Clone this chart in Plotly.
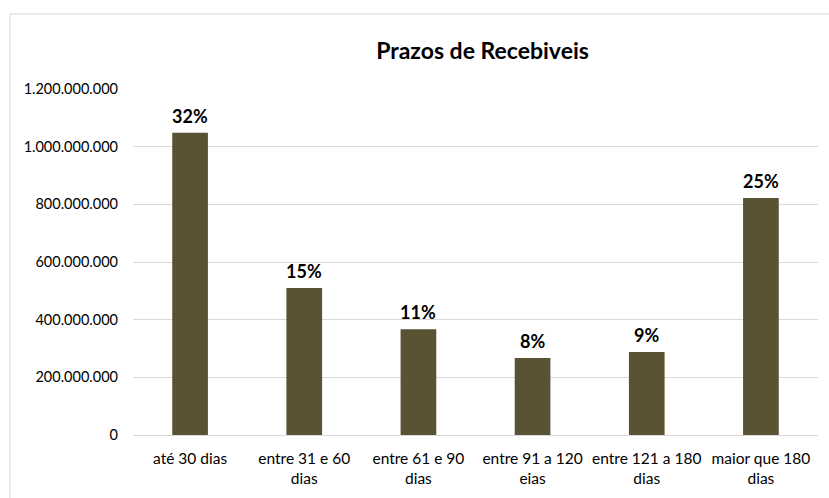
import plotly.graph_objects as go

# Receivables by maturity bucket
categorias = [
    "até 30 dias",
    "entre 31 e 60<br>dias",
    "entre 61 e 90<br>dias",
    "entre 91 a 120<br>eias",
    "entre 121 a 180<br>dias",
    "maior que 180<br>dias",
]
valores = [1048000000, 510000000, 367000000, 267000000, 288000000, 822000000]
ticks_y = [0, 200000000, 400000000, 600000000, 800000000, 1000000000, 1200000000]

total = sum(valores)
percentuais = [f"{round(v / total * 100):.0f}%" for v in valores]

COR_BARRA = "#595334"
COR_GRADE = "#d9d9d9"
FONTE = "Lato, 'Open Sans', sans-serif"

fig = go.Figure(
    go.Bar(
        x=categorias,
        y=valores,
        marker=dict(color=COR_BARRA, line=dict(width=0)),
        hoverinfo="skip",
    )
)

# Share-of-total labels above each bar
for cat, val, pct in zip(categorias, valores, percentuais):
    fig.add_annotation(
        x=cat, y=val, text=f"<b>{pct}</b>", showarrow=False,
        yanchor="bottom", yshift=4,
        font=dict(family=FONTE, size=18, color="#000000"),
    )

# Chart frame
fig.add_shape(
    type="rect", xref="paper", yref="paper",
    x0=-0.1796, x1=1.2, y0=-0.4, y1=1.217,
    line=dict(color=COR_GRADE, width=1), fillcolor="rgba(0,0,0,0)", layer="below",
)

fig.update_layout(
    width=829, height=498,
    margin=dict(l=133, r=11, t=89, b=63),
    paper_bgcolor="white", plot_bgcolor="white",
    separators=",.",
    bargap=0.6875,
    showlegend=False,
    font=dict(family=FONTE, color="#000000"),
    title=dict(
        text="<b>Prazos de Recebiveis</b>",
        x=423 / 829, xanchor="center", xref="paper",
        y=1 - 51 / 498, yanchor="middle",
        font=dict(family=FONTE, size=23, color="#000000"),
    ),
    xaxis=dict(
        showgrid=False, zeroline=False, showline=False, ticks="",
        tickfont=dict(family=FONTE, size=15.5, color="#000000"),
        ticklabelstandoff=12,
        fixedrange=True,
    ),
    yaxis=dict(
        range=[0, 1200000000],
        tickvals=ticks_y,
        tickformat=",d",
        showgrid=True, gridcolor=COR_GRADE, gridwidth=1,
        zeroline=True, zerolinecolor=COR_GRADE, zerolinewidth=1,
        showline=False, ticks="",
        tickfont=dict(family=FONTE, size=14.5, color="#000000"),
        ticklabelstandoff=14,
        fixedrange=True,
    ),
)

fig.write_html("out.html", config={"displayModeBar": False})
